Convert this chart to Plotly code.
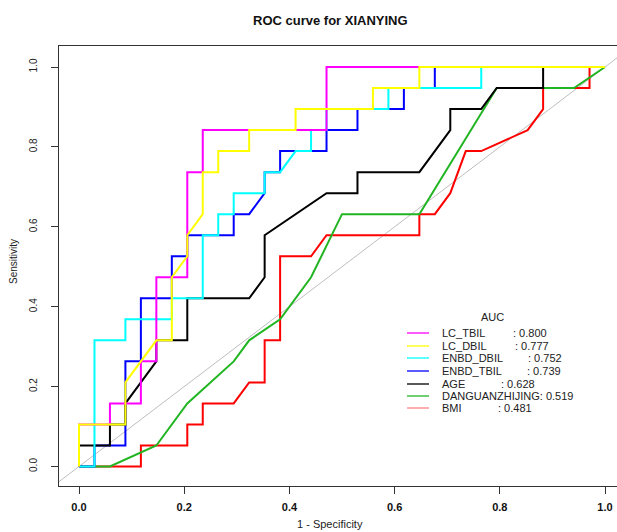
import numpy as np
import plotly.graph_objects as go

# ---------------- data ----------------
N_NEG = 34   # controls (steps along 1 - specificity)
N_POS = 19   # cases (steps along sensitivity)

series_names = ["LC_TBIL", "LC_DBIL", "ENBD_DBIL", "ENBD_TBIL", "AGE", "DANGUANZHIJING", "BMI"]
auc_values = [0.800, 0.777, 0.752, 0.739, 0.628, 0.519, 0.481]
series_colors = ["#FF00FF", "#FFFF00", "#00FFFF", "#0000FF", "#000000", "#22B522", "#FF0000"]

# ROC vertices as counts of false positives / true positives
lc_tbil_fp = [0, 0, 2, 2, 4, 4, 5, 5, 7, 7, 8, 8, 16, 16, 34]
lc_tbil_tp = [0, 2, 2, 3, 3, 5, 5, 9, 9, 14, 14, 16, 16, 19, 19]

lc_dbil_fp = [0, 0, 3, 3, 5, 6, 6, 7, 7, 8, 8, 9, 9, 11, 11, 14, 14, 19, 19, 22, 22, 34]
lc_dbil_tp = [0, 2, 2, 4, 6, 6, 9, 10, 11, 12, 14, 14, 15, 15, 16, 16, 17, 17, 18, 18, 19, 19]

enbd_dbil_fp = [0, 1, 1, 3, 3, 6, 6, 8, 8, 9, 9, 10, 10, 12, 12, 13, 14, 15, 15, 16, 16, 20, 20, 26, 26, 34]
enbd_dbil_tp = [0, 0, 6, 6, 7, 7, 8, 8, 11, 11, 12, 12, 13, 13, 14, 14, 15, 15, 16, 16, 17, 17, 18, 18, 19, 19]

enbd_tbil_fp = [0, 1, 1, 3, 3, 4, 4, 6, 6, 7, 7, 10, 10, 11, 12, 12, 13, 13, 16, 16, 18, 18, 21, 21, 23, 23, 34]
enbd_tbil_tp = [0, 0, 1, 1, 5, 5, 8, 8, 10, 10, 11, 11, 12, 12, 13, 14, 14, 15, 15, 16, 16, 17, 17, 18, 18, 19, 19]

age_fp = [0, 0, 2, 2, 3, 3, 5, 5, 7, 7, 11, 12, 12, 16, 18, 18, 22, 24, 24, 26, 27, 30, 30, 34]
age_tp = [0, 1, 1, 2, 2, 3, 5, 6, 6, 8, 8, 9, 11, 13, 13, 14, 14, 16, 17, 17, 18, 18, 19, 19]

dang_fp = [0, 2, 5, 7, 10, 11, 13, 15, 17, 22, 27, 32, 34]
dang_tp = [0, 0, 1, 3, 5, 6, 7, 9, 12, 12, 18, 18, 19]

bmi_fp = [0, 4, 4, 7, 7, 8, 8, 10, 11, 12, 12, 13, 13, 15, 16, 22, 22, 23, 24, 25, 26, 29, 30, 30, 33, 33, 34]
bmi_tp = [0, 0, 1, 1, 2, 2, 3, 3, 4, 4, 6, 6, 10, 10, 11, 11, 12, 12, 13, 15, 15, 16, 17, 18, 18, 19, 19]

x_ticks = [0.0, 0.2, 0.4, 0.6, 0.8, 1.0]
x_tick_labels = ["0.0", "0.2", "0.4", "0.6", "0.8", "1.0"]
y_ticks = [0.0, 0.2, 0.4, 0.6, 0.8, 1.0]
y_tick_labels = ["0.0", "0.2", "0.4", "0.6", "0.8", "1.0"]

curves = {
    "LC_TBIL": (lc_tbil_fp, lc_tbil_tp),
    "LC_DBIL": (lc_dbil_fp, lc_dbil_tp),
    "ENBD_DBIL": (enbd_dbil_fp, enbd_dbil_tp),
    "ENBD_TBIL": (enbd_tbil_fp, enbd_tbil_tp),
    "AGE": (age_fp, age_tp),
    "DANGUANZHIJING": (dang_fp, dang_tp),
    "BMI": (bmi_fp, bmi_tp),
}
draw_order = ["BMI", "DANGUANZHIJING", "ENBD_TBIL", "AGE", "ENBD_DBIL", "LC_TBIL", "LC_DBIL"]

# ---------------- layout geometry (page pixels; body margin removed) ----------------
W, H = 617, 532
BOX_L, BOX_T, BOX_B = 59, 46, 486          # plot box in page pixels
L, R, T, B = BOX_L, 0, BOX_T, (H - BOX_B)
FONT = "Liberation Sans, Arial, sans-serif"


def PX(px):
    return (px - BOX_L) / (W - R - BOX_L)


def PY(py):
    return (BOX_B - py) / (BOX_B - BOX_T)


fig = go.Figure()

# chance diagonal
fig.add_trace(go.Scatter(x=[-0.2, 1.2], y=[-0.2, 1.2], mode="lines",
                         line=dict(color="#BEBEBE", width=1), hoverinfo="skip",
                         showlegend=False))

color_of = dict(zip(series_names, series_colors))
for name in draw_order:
    fp, tp = curves[name]
    fig.add_trace(go.Scatter(
        x=np.array(fp) / N_NEG, y=np.array(tp) / N_POS, mode="lines",
        line=dict(color=color_of[name], width=2), name=name, showlegend=False))

# ---------------- legend (drawn by hand, R style) ----------------
annotations = []
shapes = []
annotations.append(dict(text="AUC", x=PX(492), y=PY(317), xref="paper", yref="paper",
                        showarrow=False, xanchor="center", yanchor="middle",
                        font=dict(family=FONT, size=11, color="#222")))
row_y = [333, 346, 358, 371, 384, 396, 408]
colon_x = [511, 513, 525.5, 524.5, 498.5, None, 495.5]
legend_line_colors = ["#FF00FF", "#FFFF00", "#00FFFF", "#0000FF", "#000000", "#22B522", "#FF8080"]
for i, name in enumerate(series_names):
    yy = PY(row_y[i])
    shapes.append(dict(type="line", xref="paper", yref="paper", x0=PX(407), x1=PX(429),
                       y0=yy, y1=yy, line=dict(color=legend_line_colors[i], width=1.3)))
    val = ": %.3f" % auc_values[i]
    if colon_x[i] is None:
        annotations.append(dict(text=name + val, x=PX(440), y=yy, xref="paper", yref="paper",
                                showarrow=False, xanchor="left", yanchor="middle",
                                font=dict(family=FONT, size=11, color="#222")))
    else:
        annotations.append(dict(text=name, x=PX(440), y=yy, xref="paper", yref="paper",
                                showarrow=False, xanchor="left", yanchor="middle",
                                font=dict(family=FONT, size=11, color="#222")))
        annotations.append(dict(text=val, x=PX(colon_x[i]), y=yy, xref="paper", yref="paper",
                                showarrow=False, xanchor="left", yanchor="middle",
                                font=dict(family=FONT, size=11, color="#222")))

# title and axis titles
annotations.append(dict(text="<b>ROC curve for XIANYING</b>", x=PX(330), y=PY(21),
                        xref="paper", yref="paper", showarrow=False,
                        xanchor="center", yanchor="middle",
                        font=dict(family=FONT, size=13, color="#111")))
annotations.append(dict(text="1 - Specificity", x=PX(330), y=PY(524),
                        xref="paper", yref="paper", showarrow=False,
                        xanchor="center", yanchor="middle",
                        font=dict(family=FONT, size=11, color="#222")))
annotations.append(dict(text="Sensitivity", x=PX(13), y=PY(262),
                        xref="paper", yref="paper", showarrow=False, textangle=-90,
                        xanchor="center", yanchor="middle",
                        font=dict(family=FONT, size=10, color="#222")))

# axis ranges so that 0 and 1 fall on the reference pixel positions
X0_PX, X1_PX = 79, 605
Y0_PX, Y1_PX = 466.5, 67
ux = X1_PX - X0_PX
uy = Y0_PX - Y1_PX
x_lo = (BOX_L - X0_PX) / ux
x_hi = (W - R - X0_PX) / ux
y_lo = -(BOX_B - Y0_PX) / uy
y_hi = 1 + (Y1_PX - BOX_T) / uy

fig.update_layout(
    width=W, height=H,
    margin=dict(l=L, r=R, t=T, b=B, pad=0, autoexpand=False),
    paper_bgcolor="white", plot_bgcolor="white",
    showlegend=False,
    annotations=annotations, shapes=shapes,
    xaxis=dict(range=[x_lo, x_hi], showgrid=False, zeroline=False, automargin=False,
               showline=True, mirror=True, linecolor="#333", linewidth=1,
               ticks="outside", ticklen=7, tickcolor="#333", tickwidth=1,
               tickvals=x_ticks, ticktext=["<b>%s</b>" % t for t in x_tick_labels],
               tickfont=dict(family=FONT, size=11, color="#111"),
               ticklabelstandoff=4),
    yaxis=dict(range=[y_lo, y_hi], showgrid=False, zeroline=False, automargin=False,
               showline=True, mirror=False, linecolor="#333", linewidth=1,
               ticks="outside", ticklen=7, tickcolor="#333", tickwidth=1,
               tickvals=y_ticks, ticktext=y_tick_labels, tickangle=-90,
               tickfont=dict(family=FONT, size=10, color="#222"),
               ticklabelstandoff=10),
)

fig.write_html("out.html",
               config={"displayModeBar": False, "staticPlot": True},
               post_script="document.body.style.margin='0';"
                           "document.body.style.overflow='hidden';"
                           "document.documentElement.style.overflow='hidden';")
